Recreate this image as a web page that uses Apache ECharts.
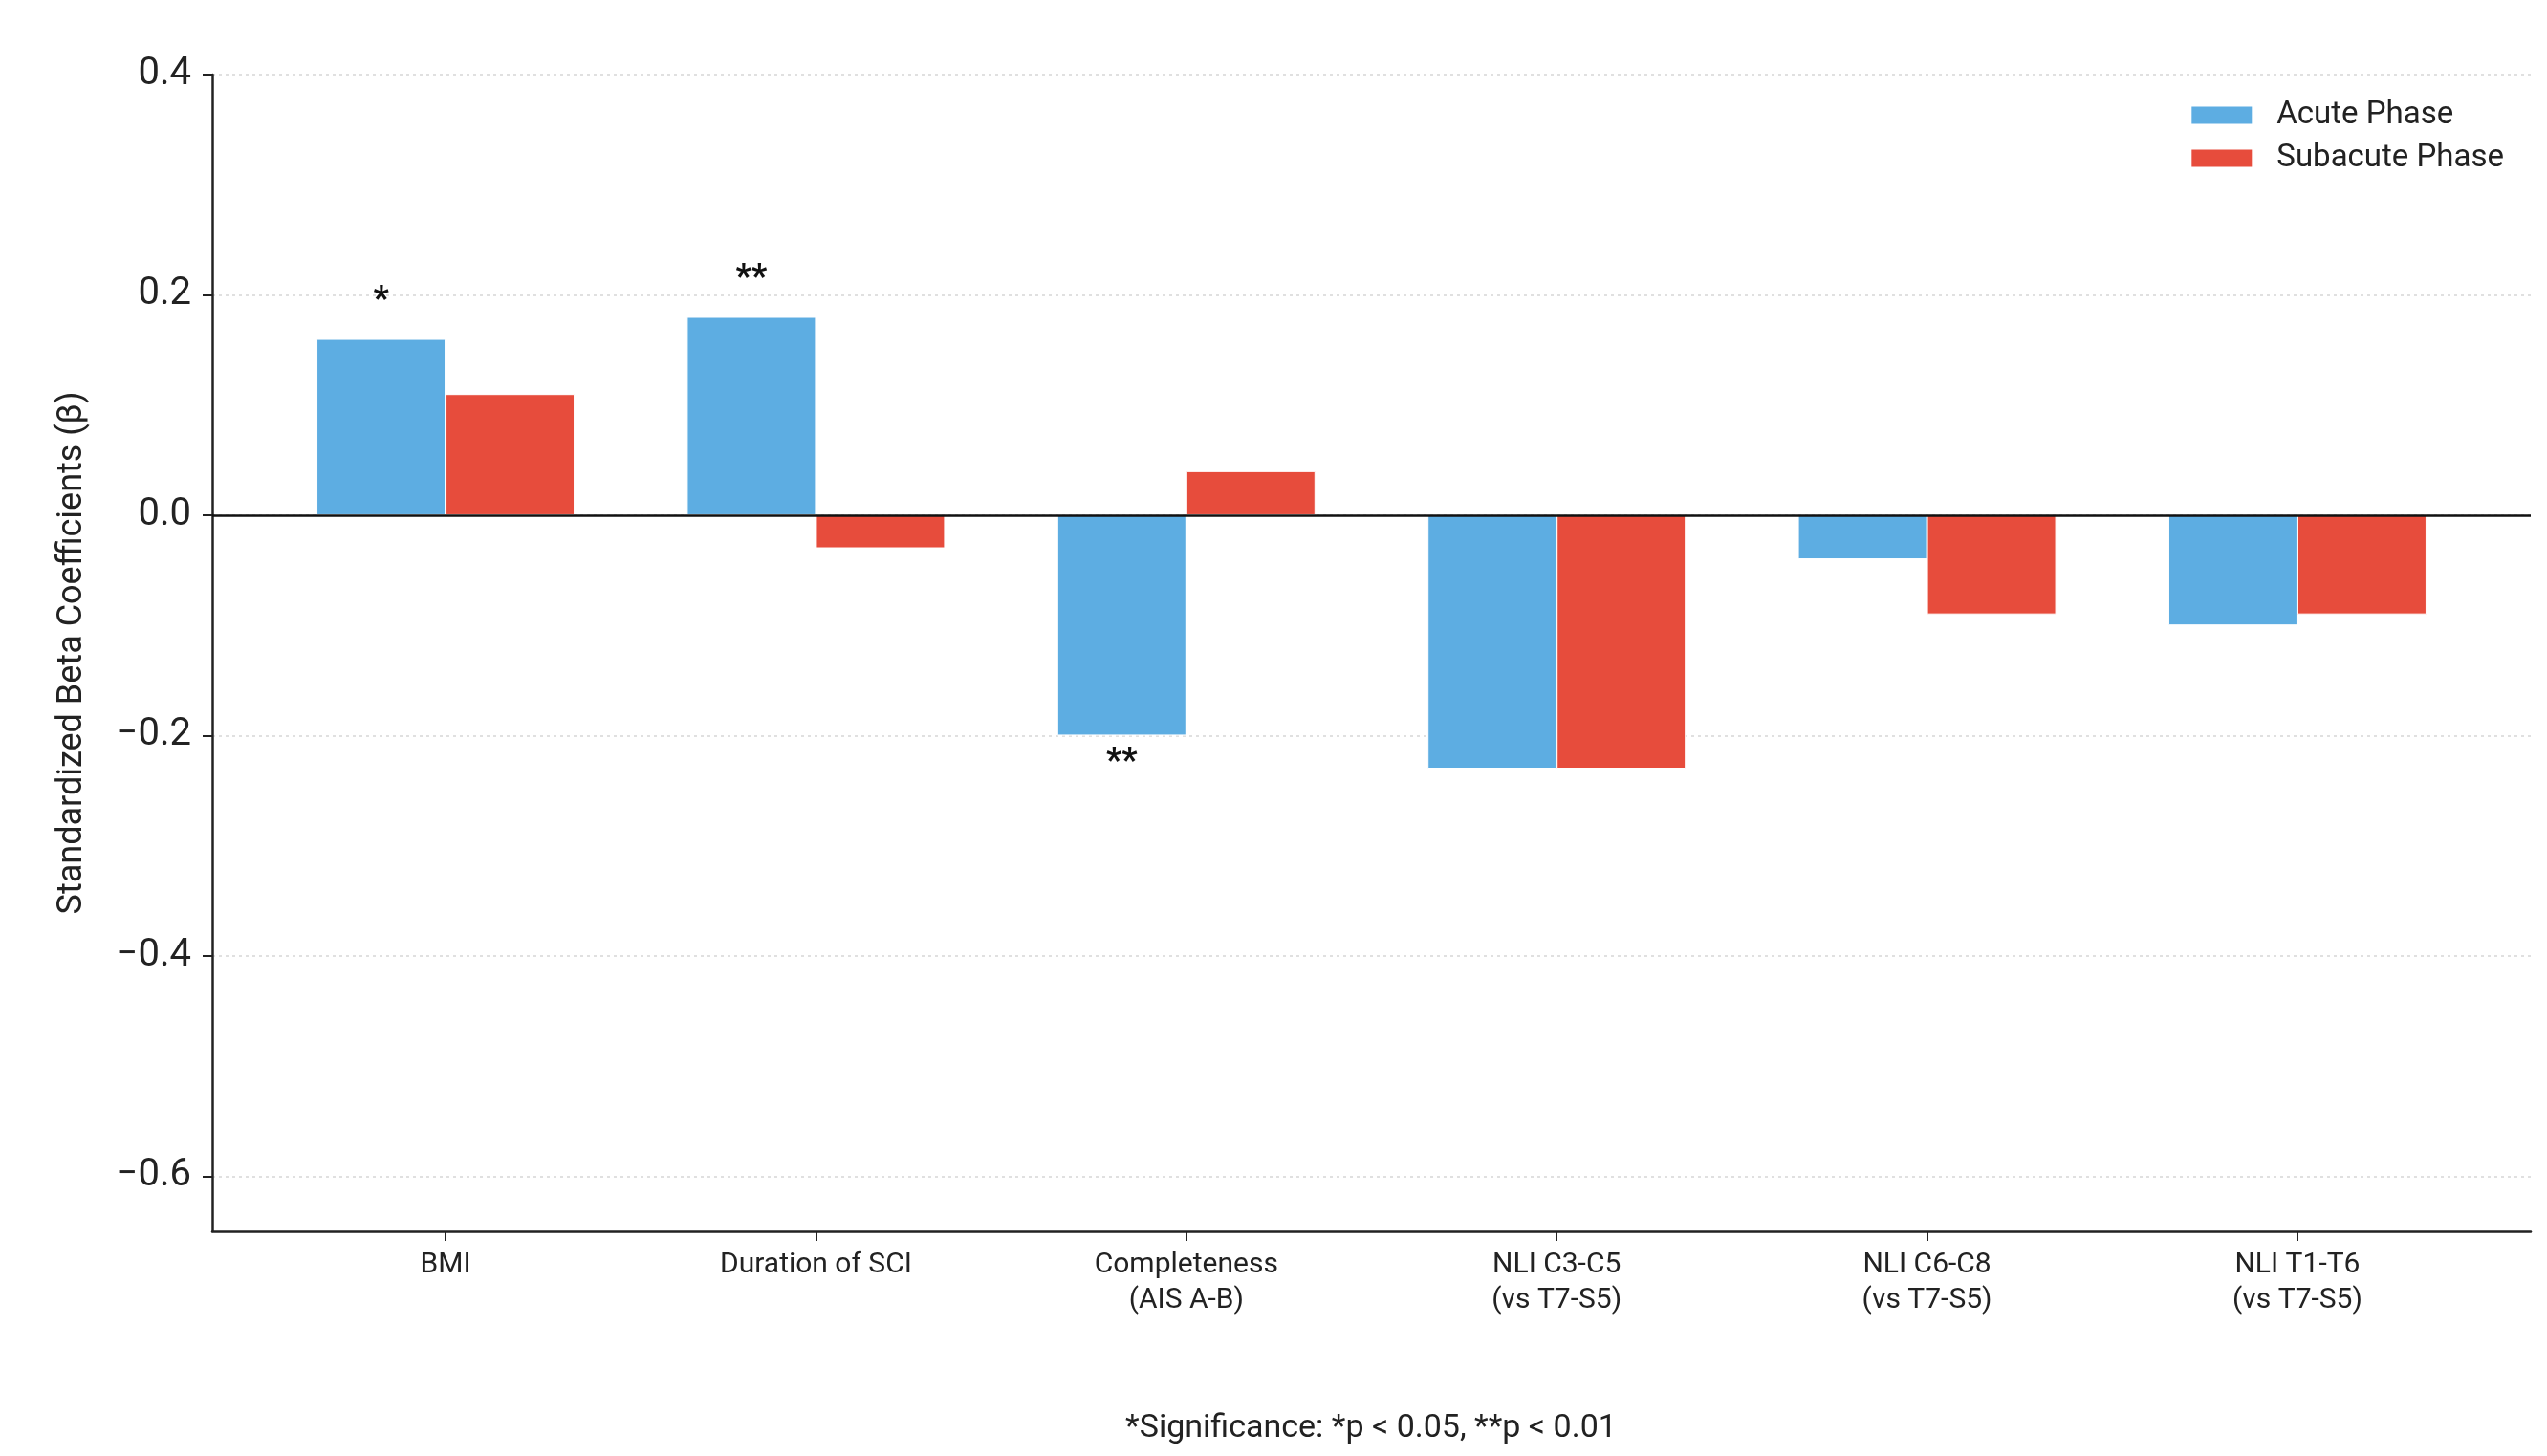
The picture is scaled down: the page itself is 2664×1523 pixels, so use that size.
<!DOCTYPE html>
<html>
<head>
<meta charset="utf-8">
<title>Standardized Beta Coefficients</title>
<script src="https://cdn.jsdelivr.net/npm/echarts@6/dist/echarts.min.js"></script>
<style>
  html, body { margin: 0; padding: 0; background: #fff; }
  #chart { width: 2664px; height: 1523px; }
</style>
</head>
<body>
<div id="chart"></div>
<script>
// Categorías del eje X
const categories = ['BMI', 'Duration of SCI', 'Completeness\n(AIS A-B)', 'NLI C3-C5\n(vs T7-S5)', 'NLI C6-C8\n(vs T7-S5)', 'NLI T1-T6\n(vs T7-S5)'];

// Valores de cada serie
const acuteValues = [0.16, 0.18, -0.20, -0.23, -0.04, -0.10];
const subacuteValues = [0.11, -0.03, 0.04, -0.23, -0.09, -0.09];

// Marcas de significancia (solo fase aguda)
const acuteSig = ['*', '**', '**', '', '', ''];
const subacuteSig = ['', '', '', '', '', ''];

// Marcas del eje Y
const yTicks = [-0.6, -0.4, -0.2, 0.0, 0.2, 0.4];
const xTicks = [0, 1, 2, 3, 4, 5];

const FONT = 'Roboto';
const chart = echarts.init(document.getElementById('chart'));

// Convertir valores en puntos [x, y] con etiqueta arriba o abajo
function buildData(values, sig) {
    return values.map((v, i) => ({
        value: [i, v],
        label: {
            show: sig[i] !== '',
            position: v >= 0 ? 'top' : 'bottom',
            distance: v >= 0 ? 22 : 11
        }
    }));
}

const sigLabel = (sig) => ({
    show: true,
    formatter: p => sig[p.dataIndex],
    fontFamily: FONT,
    fontSize: 36,
    fontWeight: 'bold',
    color: '#111'
});

const option = {
    animation: false,
    backgroundColor: '#ffffff',
    textStyle: { fontFamily: FONT },
    grid: { left: 222, right: 17, top: 78, bottom: 235 },
    legend: {
        orient: 'vertical',
        right: 40,
        top: 99,
        itemWidth: 65,
        itemHeight: 20,
        itemGap: 12,
        icon: 'rect',
        textStyle: { fontFamily: FONT, fontSize: 33, color: '#222', padding: [0, 0, 0, 20] },
        data: ['Acute Phase', 'Subacute Phase']
    },
    xAxis: {
        type: 'value',
        min: -0.63,
        max: 5.63,
        axisLine: { onZero: false, lineStyle: { color: '#222', width: 2.5 } },
        axisTick: { show: true, customValues: xTicks, length: 10, lineStyle: { color: '#222', width: 2 } },
        axisLabel: {
            customValues: xTicks,
            formatter: v => categories[Math.round(v)] || '',
            fontFamily: FONT,
            fontSize: 30,
            lineHeight: 37,
            color: '#222',
            margin: 17
        },
        splitLine: { show: false }
    },
    yAxis: {
        type: 'value',
        min: -0.65,
        max: 0.4,
        name: 'Standardized Beta Coefficients (β)',
        nameLocation: 'middle',
        nameGap: 128,
        nameTextStyle: { fontFamily: FONT, fontSize: 36, color: '#222' },
        axisLine: { show: true, onZero: false, lineStyle: { color: '#222', width: 2.5 } },
        axisTick: { show: true, customValues: yTicks, length: 10, lineStyle: { color: '#222', width: 2 } },
        axisLabel: {
            customValues: yTicks,
            formatter: v => (v < 0 ? '\u2212' : '') + Math.abs(v).toFixed(1),
            fontFamily: FONT,
            fontSize: 40,
            color: '#222',
            margin: 22
        },
        splitLine: { show: true, lineStyle: { color: '#d6d6d6', type: [3, 4], width: 1.5 } }
    },
    series: [
        {
            name: 'Acute Phase',
            type: 'bar',
            barWidth: 135,
            barGap: '0%',
            itemStyle: { color: '#5DADE2', borderColor: '#ffffff', borderWidth: 1 },
            label: sigLabel(acuteSig),
            data: buildData(acuteValues, acuteSig),
            markLine: {
                silent: true,
                symbol: 'none',
                label: { show: false },
                lineStyle: { color: '#111', type: 'solid', width: 2.5 },
                data: [{ yAxis: 0 }],
                z: 10
            }
        },
        {
            name: 'Subacute Phase',
            type: 'bar',
            barWidth: 135,
            barGap: '0%',
            itemStyle: { color: '#E74C3C', borderColor: '#ffffff', borderWidth: 1 },
            label: sigLabel(subacuteSig),
            data: buildData(subacuteValues, subacuteSig)
        }
    ],
    graphic: [
        {
            type: 'text',
            x: 1434,
            y: 1494,
            style: {
                text: '*Significance: *p < 0.05, **p < 0.01',
                fontFamily: FONT,
                fontSize: 34,
                fill: '#222',
                textAlign: 'center',
                textVerticalAlign: 'middle'
            }
        }
    ]
};

chart.setOption(option);
</script>
</body>
</html>
